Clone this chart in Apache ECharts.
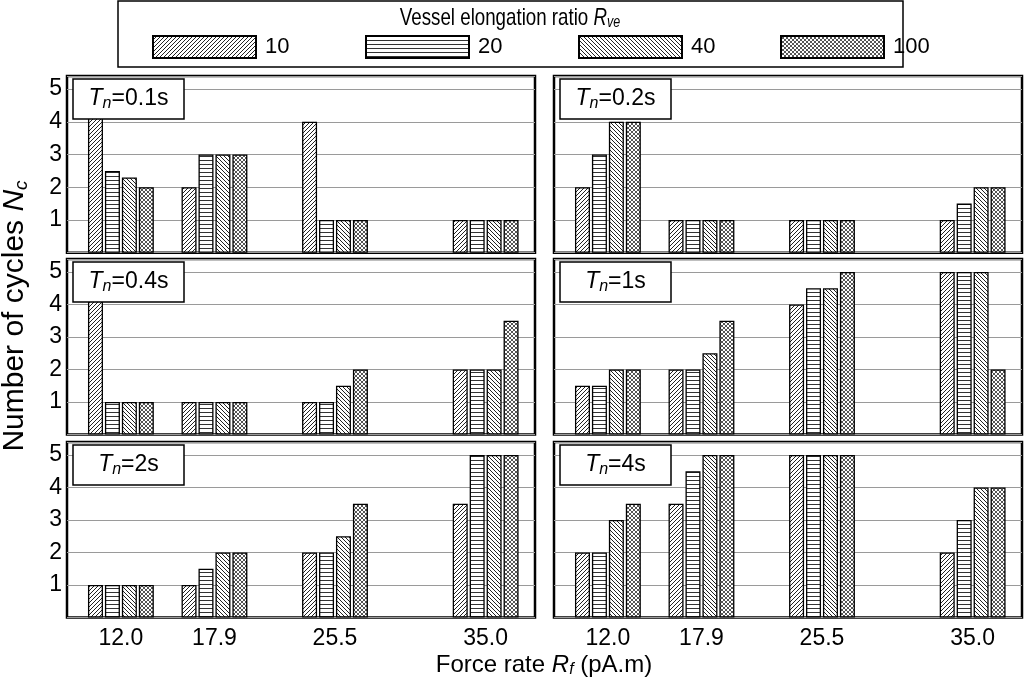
<!DOCTYPE html>
<html><head><meta charset="utf-8">
<script src="https://cdn.jsdelivr.net/npm/echarts@6/dist/echarts.min.js"></script>
<style>html,body{margin:0;padding:0;background:#fff}#c{width:1025px;height:681px}</style>
</head><body><div id="c"></div>
<script>
// ---- data ----
const forceRates = [12.0, 17.9, 25.5, 35.0];
const ratioNames = ['10', '20', '40', '100'];
const tickLabels = [12.0, 17.9, 25.5, 35.0];
const yTicks = [1, 2, 3, 4, 5];
const panelLabels = ['0.1s', '0.2s', '0.4s', '1s', '2s', '4s'];
// rows: R_ve = 10, 20, 40, 100 ; columns: force rates
const tn01 = [[4.5, 2, 4, 1], [2.5, 3, 1, 1], [2.3, 3, 1, 1], [2, 3, 1, 1]];
const tn02 = [[2, 1, 1, 1], [3, 1, 1, 1.5], [4, 1, 1, 2], [4, 1, 1, 2]];
const tn04 = [[4.5, 1, 1, 2], [1, 1, 1, 2], [1, 1, 1.5, 2], [1, 1, 2, 3.5]];
const tn1  = [[1.5, 2, 4, 5], [1.5, 2, 4.5, 5], [2, 2.5, 4.5, 5], [2, 3.5, 5, 2]];
const tn2  = [[1, 1, 2, 3.5], [1, 1.5, 2, 5], [1, 2, 2.5, 5], [1, 2, 3.5, 5]];
const tn4  = [[2, 3.5, 5, 2], [2, 4.5, 5, 3], [3, 5, 5, 4], [3.5, 5, 5, 4]];
const panelData = [tn01, tn02, tn04, tn1, tn2, tn4];

const FONT = '"Liberation Sans", Arial, sans-serif';

function makePattern(kind) {
  const s = 4;
  const c = document.createElement('canvas');
  c.width = s; c.height = s;
  const g = c.getContext('2d');
  g.fillStyle = '#fff'; g.fillRect(0, 0, s, s);
  g.strokeStyle = kind === 'x' ? '#555' : '#222'; g.lineWidth = 1;
  g.beginPath();
  if (kind === 'f') { // forward slash
    g.moveTo(-1, s + 1); g.lineTo(s + 1, -1);
    g.moveTo(-1, 1); g.lineTo(1, -1);
    g.moveTo(s - 1, s + 1); g.lineTo(s + 1, s - 1);
  } else if (kind === 'b') { // back slash
    g.moveTo(-1, -1); g.lineTo(s + 1, s + 1);
    g.moveTo(s - 1, -1); g.lineTo(s + 1, 1);
    g.moveTo(-1, s - 1); g.lineTo(1, s + 1);
  } else if (kind === 'h') {
    g.strokeStyle = '#333';
    g.moveTo(0, 0.5); g.lineTo(s, 0.5);
  } else { // cross
    g.moveTo(-1, s + 1); g.lineTo(s + 1, -1);
    g.moveTo(-1, -1); g.lineTo(s + 1, s + 1);
  }
  g.stroke();
  return { image: c, repeat: 'repeat' };
}
const patterns = [makePattern('f'), makePattern('h'), makePattern('b'), makePattern('x')];

const chart = echarts.init(document.getElementById('c'), null, { renderer: 'canvas' });

const colLeft = [67, 554];
const gridW = 468;
const rowTop = [76, 259, 442];
const rowH = [176.7, 175.5, 175.5];

const grids = [], xAxes = [], yAxes = [], series = [];
for (let p = 0; p < 6; p++) {
  const r = Math.floor(p / 2), c = p % 2;
  grids.push({
    left: colLeft[c], top: rowTop[r], width: gridW, height: rowH[r],
    show: true, borderColor: '#000', borderWidth: 2.5, backgroundColor: 'transparent'
  });
  xAxes.push({
    type: 'value', gridIndex: p, min: 8.601, max: 38.112,
    axisLine: { show: false }, axisTick: { show: false }, splitLine: { show: false },
    axisLabel: {
      show: r === 2, customValues: tickLabels, margin: 10,
      fontSize: 23, color: '#000', fontFamily: FONT,
      formatter: v => v.toFixed(1)
    }
  });
  yAxes.push({
    type: 'value', gridIndex: p, min: 0, max: 5.4, interval: 1,
    axisLine: { show: false }, axisTick: { show: false },
    splitLine: { show: true, lineStyle: { color: '#9a9a9a', width: 1 } },
    axisLabel: {
      show: c === 0, customValues: yTicks, margin: 5,
      fontSize: 23, color: '#000', fontFamily: FONT
    }
  });
  const d = panelData[p];
  for (let s = 0; s < 4; s++) {
    series.push({
      type: 'bar', name: ratioNames[s], xAxisIndex: p, yAxisIndex: p,
      barWidth: 15, barGap: '13%',
      data: forceRates.map((f, i) => [f, d[s][i]]),
      itemStyle: { color: patterns[s], borderColor: '#000', borderWidth: 1.3 },
      emphasis: { disabled: true }, animation: false
    });
  }
}

const legendX = [152, 365, 578, 780];
const legends = ratioNames.map((n, i) => ({
  data: [n], left: legendX[i], top: 35, itemWidth: 103, itemHeight: 22, padding: 0,
  icon: 'rect', selectedMode: false,
  textStyle: { fontSize: 22, color: '#000', fontFamily: FONT, padding: [0, 0, 0, 4] }
}));

const mkRich = (big, small, fam, pad) => ({
  i: { fontStyle: 'italic', fontSize: big, fontFamily: fam, color: '#000' },
  s: { fontStyle: 'italic', fontSize: small, fontFamily: fam, color: '#000', padding: [pad, 0, 0, 0] },
  r: { fontSize: big, fontFamily: fam, color: '#000' }
});

const graphics = [];
// legend frame and title
graphics.push({ type: 'rect', shape: { x: 118, y: 1, width: 785, height: 66 },
  style: { fill: 'transparent', stroke: '#000', lineWidth: 1.5 }, z: 10 });
graphics.push({ type: 'text', x: 510, y: 18, z: 11, scaleX: 0.78,
  style: { text: '{r|Vessel elongation ratio }{i|R}{s|ve}', rich: mkRich(24, 16, FONT, 10),
    align: 'center', verticalAlign: 'middle' } });
// panel labels
for (let p = 0; p < 6; p++) {
  const r = Math.floor(p / 2), c = p % 2;
  const bx = colLeft[c] + 6, by = rowTop[r] + 3, bw = 111, bh = 40;
  graphics.push({ type: 'rect', shape: { x: bx, y: by, width: bw, height: bh }, z: 20,
    style: { fill: '#fff', stroke: '#000', lineWidth: 1.5 } });
  graphics.push({ type: 'text', x: bx + bw / 2, y: by + bh / 2, z: 21,
    style: { text: '{i|T}{s|n}{r|=' + panelLabels[p] + '}', rich: mkRich(23, 16, FONT, 10),
      align: 'center', verticalAlign: 'middle' } });
}
// axis titles
graphics.push({ type: 'text', x: 544, y: 665, z: 11,
  style: { text: '{r|Force rate }{i|R}{s|f}{r| (pA.m)}', rich: mkRich(24, 16, FONT, 10),
    align: 'center', verticalAlign: 'middle' } });
graphics.push({ type: 'text', x: 15, y: 316, rotation: Math.PI / 2, z: 11,
  style: { text: '{r|Number of cycles }{i|N}{s|c}', rich: mkRich(30, 19, FONT, 13),
    align: 'center', verticalAlign: 'middle' } });

chart.setOption({
  animation: false,
  backgroundColor: '#fff',
  grid: grids, xAxis: xAxes, yAxis: yAxes, series: series,
  legend: legends, graphic: graphics
});
</script></body></html>
